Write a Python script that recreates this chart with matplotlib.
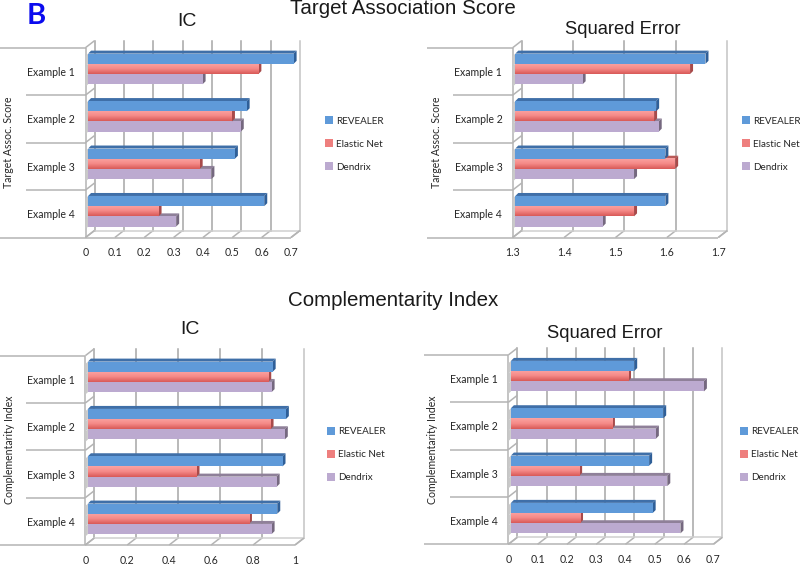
import numpy as np
import matplotlib
matplotlib.use("Agg")
import matplotlib.pyplot as plt
from matplotlib.patches import Patch, Polygon
from matplotlib.colors import LinearSegmentedColormap

W, H = 800, 565
categories = ["Example 1", "Example 2", "Example 3", "Example 4"]
series_names = ["REVEALER", "Elastic Net", "Dendrix"]

ta_ic_revealer = [0.70, 0.54, 0.50, 0.60]
ta_ic_elastic = [0.58, 0.49, 0.38, 0.24]
ta_ic_dendrix = [0.39, 0.52, 0.42, 0.30]
ta_se_revealer = [1.67, 1.574, 1.592, 1.592]
ta_se_elastic = [1.64, 1.57, 1.611, 1.531]
ta_se_dendrix = [1.431, 1.579, 1.531, 1.47]
ci_ic_revealer = [0.881, 0.944, 0.928, 0.903]
ci_ic_elastic = [0.86, 0.871, 0.518, 0.768]
ci_ic_dendrix = [0.876, 0.939, 0.90, 0.876]
ci_se_revealer = [0.421, 0.52, 0.472, 0.484]
ci_se_elastic = [0.40, 0.345, 0.233, 0.236]
ci_se_dendrix = [0.659, 0.495, 0.534, 0.579]

ticks_ta_ic = [0, 0.1, 0.2, 0.3, 0.4, 0.5, 0.6, 0.7]
ticks_ta_se = [1.3, 1.4, 1.5, 1.6, 1.7]
ticks_ci_ic = [0, 0.2, 0.4, 0.6, 0.8, 1]
ticks_ci_se = [0, 0.1, 0.2, 0.3, 0.4, 0.5, 0.6, 0.7]

FONT = "Lato"
TITLE_FONT = "Liberation Sans"
GRID = "#b4b4b4"
FRONT = ["#5f9ad9", "#f08080", "#bcaad0"]
TOP = ["#3f6fa8", "#b85a58", "#8f8099"]
SIDE = ["#2f5f98", "#a84a4a", "#75687f"]
RAMP = LinearSegmentedColormap.from_list("r", ["#fba3a2", "#f58a88", "#d95a58"])

fig = plt.figure(figsize=(W / 100, H / 100), dpi=100, facecolor="white")


def panel(left, right, top, bottom, ticks, data, sep_top, sep_mid, ylabel, ylabel_x, ylabel_y,
          legend_x, legend_y, title, title_x, title_y, title_size):
    ax = fig.add_axes([left / W, 1 - bottom / H, (right - left) / W, (bottom - top) / H])
    x0, x1 = ticks[0], ticks[-1]
    ax.set_xlim(x0, x1)
    ax.set_ylim(3.5, -0.5)
    sx = (x1 - x0) / (right - left)
    sy = 4 / (bottom - top)
    ddx, ddy = 9 * sx, 7 * sy
    for s in ax.spines.values():
        s.set_visible(False)
    ax.patch.set_visible(False)
    lw = 1.1
    kw = dict(color=GRID, lw=lw, clip_on=False, solid_capstyle="butt")
    # back wall gridlines and floor ticks
    for t in ticks:
        ax.plot([t + ddx, t + ddx], [3.5 - ddy, -0.5 - ddy], zorder=1,
                color="#a6a6a6" if t != x1 else "#c4c4c4", lw=lw, clip_on=False)
        ax.plot([t, t + ddx], [3.5, 3.5 - ddy], zorder=1, **kw)
    # front axes and left wall
    ax.plot([x0, x1], [3.5, 3.5], zorder=1, **kw)
    ax.plot([x0, x0], [3.5, -0.5], zorder=1, **kw)
    ax.plot([x0 + ddx, x1 + ddx], [3.5 - ddy, 3.5 - ddy], zorder=1, color="#d0d0d0", lw=lw, clip_on=False)
    ax.plot([x1, x1 + ddx], [3.5, 3.5 - ddy], zorder=1, **kw)
    # category separators
    for i, yy in enumerate([-0.5, 0.5, 1.5, 2.5, 3.5]):
        start = sep_top if yy in (-0.5, 3.5) else sep_mid
        ax.plot([x0 - (left - start) * sx, x0], [yy, yy], zorder=1, **kw)
        ax.plot([x0, x0 + ddx], [yy, yy - ddy], zorder=1, **kw)
    # bars
    bar_h = 0.215
    bx, by = 2.6 * sx, 2.5 * sy
    cap_x, cap_y = 3 * sx, 3 * sy
    offsets = [-0.215, 0.0, 0.215]
    for i in range(len(categories)):
        for k in (2, 1, 0):
            v = data[k][i]
            yc = i + offsets[k] - by
            y_t, y_b = yc - bar_h / 2, yc + bar_h / 2
            xs = x0 + bx
            xe = xs + (v - x0)
            ax.add_patch(Polygon([(x0, y_t + 2.5 * sy), (xs, y_t), (xs, y_b), (x0, y_b + 2.5 * sy)],
                                 closed=True, fc="#c9c9c9", ec="none", zorder=3 + (2 - k), clip_on=False))
            ax.add_patch(Polygon([(xs, y_t), (xe, y_t), (xe + cap_x, y_t - cap_y), (xs + cap_x, y_t - cap_y)],
                                 closed=True, fc=TOP[k], ec="none", zorder=3 + (2 - k), clip_on=False))
            ax.add_patch(Polygon([(xe, y_t), (xe + cap_x, y_t - cap_y), (xe + cap_x, y_b - cap_y), (xe, y_b)],
                                 closed=True, fc=SIDE[k], ec="none", zorder=3 + (2 - k), clip_on=False))
            ax.barh(yc, v - x0, left=xs, height=bar_h, color=FRONT[k], zorder=3.5 + (2 - k), clip_on=False)
            if k == 1:
                ax.imshow(np.linspace(0, 1, 32).reshape(-1, 1), cmap=RAMP, aspect="auto",
                          extent=(xs, xe, y_b, y_t), zorder=3.6 + (2 - k), interpolation="bilinear", clip_on=False)
    ax.set_xlim(x0, x1)
    ax.set_ylim(3.5, -0.5)
    ax.set_xticks(ticks)
    ax.set_xticklabels([f"{t:g}" for t in ticks], fontfamily=FONT, fontsize=7.6, color="#262626")
    ax.set_yticks(range(4))
    ax.set_yticklabels(categories, fontfamily=FONT, fontsize=7.6, color="#262626")
    ax.tick_params(axis="x", length=0, pad=7.2)
    ax.tick_params(axis="y", length=0, pad=7.5)
    fig.text(ylabel_x / W, 1 - ylabel_y / H, ylabel, rotation=90, ha="center", va="center",
             fontfamily=FONT, fontsize=7.6, color="#262626")
    handles = [Patch(fc=FRONT[0]), Patch(fc="#ee7f7e"), Patch(fc=FRONT[2])]
    ax.legend(handles, series_names, loc="center left", frameon=False,
              bbox_to_anchor=(legend_x / W, 1 - legend_y / H), bbox_transform=fig.transFigure,
              prop={"family": FONT, "size": 7.1}, labelcolor="#262626", handlelength=0.85, handleheight=0.85,
              handletextpad=0.25, labelspacing=1.38, borderpad=0, borderaxespad=0)
    fig.text(title_x / W, 1 - title_y / H, title, ha="center", va="center",
             fontfamily=TITLE_FONT, fontsize=title_size, color="#1a1a1a")


panel(85.5, 291, 47.7, 237.5, ticks_ta_ic, [ta_ic_revealer, ta_ic_elastic, ta_ic_dendrix], 0, 26,
      "Target Assoc. Score", 9, 142, 325, 144, "IC", 187, 22, 14)
panel(512.7, 718.3, 47.7, 237.5, ticks_ta_se, [ta_se_revealer, ta_se_elastic, ta_se_dendrix], 427, 453,
      "Target Assoc. Score", 436, 142, 742, 144, "Squared Error", 622.7, 29, 13.2)
panel(85.3, 295, 355.7, 545, ticks_ci_ic, [ci_ic_revealer, ci_ic_elastic, ci_ic_dendrix], 0, 26,
      "Complementarity Index", 10, 450, 327, 454.5, "IC", 190, 329, 14)
panel(508.3, 713.3, 355, 544.3, ticks_ci_se, [ci_se_revealer, ci_se_elastic, ci_se_dendrix], 424, 450,
      "Complementarity Index", 432.7, 450, 740, 454.5, "Squared Error", 605, 333, 13.2)

fig.text(403 / W, 1 - 9 / H, "Target Association Score", ha="center", va="center",
         fontfamily=TITLE_FONT, fontsize=14.8, color="#1a1a1a")
fig.text(393 / W, 1 - 301 / H, "Complementarity Index", ha="center", va="center",
         fontfamily=TITLE_FONT, fontsize=14.8, color="#1a1a1a")
fig.text(36 / W, 1 - 15.5 / H, "B", ha="center", va="center", fontfamily=FONT,
         fontweight="bold", fontsize=21, color="#0a0aee")

fig.savefig("out.png", dpi=100, facecolor="white")
